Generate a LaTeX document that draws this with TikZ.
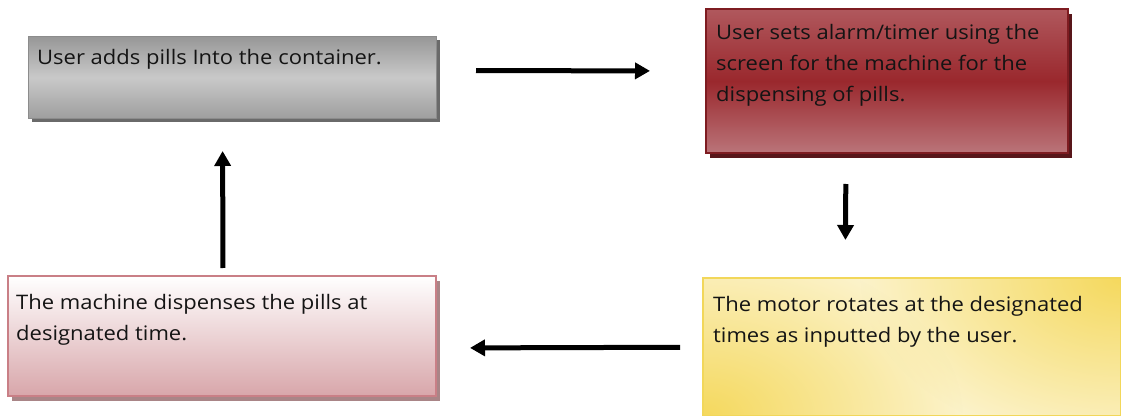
\documentclass[tikz,border=0pt]{standalone}
\usepackage{fontspec}
\setmainfont[FakeStretch=1.1]{Open Sans}
\usetikzlibrary{arrows.meta,shadows,fadings}

\definecolor{txtcol}{HTML}{141414}
\definecolor{grayedge}{HTML}{8C8C8C}
\definecolor{graytop}{HTML}{979797}
\definecolor{graymid}{HTML}{C9C9C9}
\definecolor{graybot}{HTML}{9E9E9E}
\definecolor{grayshadow}{HTML}{6A6A6A}
\definecolor{rededge}{HTML}{7E1C21}
\definecolor{redtop}{HTML}{B0585D}
\definecolor{redmid}{HTML}{9A282D}
\definecolor{redbot}{HTML}{BA7479}
\definecolor{redshadow}{HTML}{58161A}
\definecolor{pinkedge}{HTML}{C97F86}
\definecolor{pinkbot}{HTML}{D8A6AA}
\definecolor{pinkshadow}{HTML}{A98587}
\definecolor{yeledge}{HTML}{F2D75A}
\definecolor{yelin}{HTML}{FCF3CB}
\definecolor{yelout}{HTML}{F5D95E}

% soft radial glow: opaque in the middle, clear at the rim
\tikzfading[name=cornerglow, inner color=transparent!0, outer color=transparent!100]

\tikzset{
  stepbox/.style={rectangle, anchor=north west, inner sep=0pt},
  graybox/.style={stepbox, draw=grayedge, line width=1pt,
    top color=graytop, bottom color=graybot, middle color=graymid,
    copy shadow={shadow xshift=3pt, shadow yshift=-4pt, fill=grayshadow, draw=none}},
  redbox/.style={stepbox, draw=rededge, line width=2pt,
    top color=redtop, bottom color=redbot, middle color=redmid,
    copy shadow={shadow xshift=4pt, shadow yshift=-5pt, fill=redshadow, draw=none}},
  pinkbox/.style={stepbox, draw=pinkedge, line width=2pt,
    top color=white, bottom color=pinkbot,
    copy shadow={shadow xshift=4pt, shadow yshift=-5pt, fill=pinkshadow, draw=none}},
  yellowbox/.style={stepbox, fill=yelin},
  yellowframe/.style={draw=yeledge, line width=1.5pt},
  glow/.style={fill=yelout, path fading=cornerglow},
  steptext/.style={anchor=base west, inner sep=0pt, align=left,
    text=txtcol, font=\fontsize{20}{31}\selectfont},
  flow/.style={line width=5pt, -{Triangle[length=15pt,width=16pt]}}
}

\begin{document}
\begin{tikzpicture}[x=1pt,y=-1pt]
\useasboundingbox (0,0) rectangle (1128,417);

% boxes
\node[graybox, minimum width=408pt, minimum height=82pt] (b1) at (28,36) {};
\node[redbox, minimum width=362pt, minimum height=144pt] (b2) at (705,8) {};
\node[pinkbox, minimum width=428pt, minimum height=120pt] (b3) at (7,275) {};
\node[yellowbox, minimum width=417pt, minimum height=137pt] (b4) at (703,278) {};

% yellow glow in two opposite corners of the last box
\begin{scope}
  \clip (b4.north west) rectangle (b4.south east);
  \fill[glow] (b4.north east) ellipse [x radius=260pt, y radius=170pt];
  \fill[glow] (b4.south west) ellipse [x radius=260pt, y radius=170pt];
\end{scope}
\draw[yellowframe] (b4.north west) rectangle (b4.south east);

% texts (anchored at the baseline of the last line)
\node[steptext] (t1) at ([xshift=9pt,yshift=-29pt]b1.north west)
  {User adds pills Into the container.};
\node[steptext] (t2) at ([xshift=11pt,yshift=-94pt]b2.north west)
  {User sets alarm/timer using the\\screen for the machine for the\\dispensing of pills.};
\node[steptext] (t3) at ([xshift=9pt,yshift=-65pt]b3.north west)
  {The machine dispenses the pills at\\designated time.};
\node[steptext] (t4) at ([xshift=10pt,yshift=-64pt]b4.north west)
  {The motor rotates at the designated\\times as inputted by the user.};

% connectors
\draw[flow, shorten <=39pt, shorten >=55pt]
  ([yshift=7pt]b1.east) -- ([yshift=10pt]b2.west);
\draw[flow, shorten <=30pt, shorten >=38pt]
  ([xshift=-41pt]b2.south) -- ([xshift=-66.5pt]b4.north);
\draw[flow, shorten <=23pt, shorten >=33pt]
  ([yshift=-0.5pt]b4.west) -- ([yshift=-12pt]b3.east);
\draw[flow, shorten <=7pt, shorten >=32pt]
  ([xshift=1pt]b3.north) -- ([xshift=-10pt]b1.south);
\end{tikzpicture}
\end{document}
